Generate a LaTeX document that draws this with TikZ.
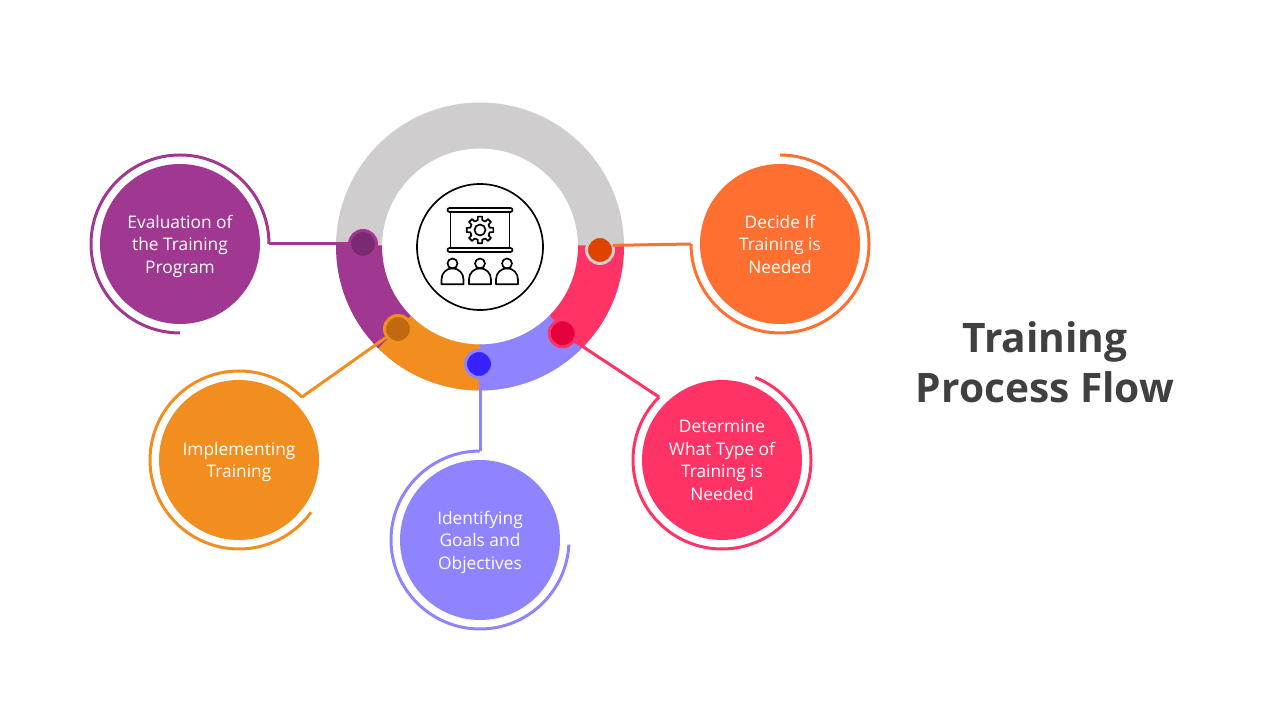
\documentclass[tikz,border=0pt]{standalone}
\usepackage{fontspec}
\setmainfont{Open Sans}
\usetikzlibrary{positioning}
\definecolor{cgray}{HTML}{CFCDCE}
\definecolor{cdecide}{HTML}{FF6F2F}
\definecolor{cdecidedark}{HTML}{E04300}
\definecolor{cdetermine}{HTML}{FF3366}
\definecolor{cdeterminedark}{HTML}{E4003A}
\definecolor{cgoals}{HTML}{8F84FF}
\definecolor{cgoalsdark}{HTML}{3722FF}
\definecolor{cimpl}{HTML}{F28E1F}
\definecolor{cimpldark}{HTML}{BF6A0E}
\definecolor{ceval}{HTML}{A03891}
\definecolor{cevaldark}{HTML}{7B2A72}
\definecolor{ctitle}{HTML}{404040}

\begin{document}
\begin{tikzpicture}[
    x=0.75pt, y=0.75pt,
    bubble/.style={circle, minimum size=120pt, inner sep=0pt, text=white, align=center, text depth=0pt, font=\fontsize{13}{16.9}\selectfont},
    hubdot/.style={circle, minimum size=20.25pt, inner sep=0pt, outer sep=0pt, line width=2.25pt},
    ringline/.style={line width=2.25pt},
    iconline/.style={line width=1.25pt, black, line join=round}
]
\useasboundingbox (0,0) rectangle (1280,720);

% Anello centrale
\fill[cgray, even odd rule] (480,473.5) circle[radius=144] (480,473.5) circle[radius=98];
\foreach \from/\to/\col in {0.6/-45/cdetermine, -45/-90/cgoals, -90/-135/cimpl, -135/-180.6/ceval} {
    \fill[\col] (480,473.5) ++(\from:144) arc[start angle=\from, end angle=\to, radius=144]
        -- ++(\to+180:46) arc[start angle=\to, end angle=\from, radius=98] -- cycle;
}

% Cerchi con testo
\node[bubble, fill=ceval] (evaluation) at (180,476) {Evaluation of\\the Training\\Program};
\node[bubble, fill=cdecide] (decide) at (780,476) {Decide If\\Training is\\Needed};
\node[bubble, fill=cdetermine] (determine) at (722,260) {Determine\\What Type of\\Training is\\Needed};
\node[bubble, fill=cgoals] (goals) at (480,180) {Identifying\\Goals and\\Objectives};
\node[bubble, fill=cimpl] (implementing) at (239,260) {Implementing\\Training};

% Archi esterni
\foreach \name/\col/\from/\to in {evaluation/ceval/0/270, decide/cdecide/-180/90, determine/cdetermine/135/428, goals/cgoals/90/357, implementing/cimpl/45/324} {
    \draw[ringline, \col] (\name.center) ++(\from:89) coordinate (tip\name) arc[start angle=\from, end angle=\to, radius=89];
}

% Punti sull'anello
\node[hubdot, draw=ceval, fill=cevaldark] (dotevaluation) at (363,476) {};
\node[hubdot, draw=cgray, fill=cdecidedark] (dotdecide) at (600,470) {};
\node[hubdot, draw=cdetermine, fill=cdeterminedark] (dotdetermine) at (562.7,386.7) {};
\node[hubdot, draw=cgoals, fill=cgoalsdark] (dotgoals) at (479,356) {};
\node[hubdot, draw=cimpl, fill=cimpldark] (dotimplementing) at (398,391) {};

% Collegamenti
\draw[ringline, ceval] (dotevaluation) -- (tipevaluation);
\draw[ringline, cdecide] (dotdecide.20) -- (tipdecide);
\draw[ringline, cdetermine] (dotdetermine) -- (tipdetermine);
\draw[ringline, cgoals] (dotgoals.south -| tipgoals) -- (tipgoals);
\draw[ringline, cimpl] (dotimplementing) -- (tipimplementing);

% Icona centrale
\node[circle, draw, fill=white, line width=1.25pt, minimum size=94.5pt, inner sep=0pt] (iconring) at (480,473) {};
\draw[iconline, rounded corners=1.5pt] (447.5,508) rectangle (512.5,512);
\draw[iconline, rounded corners=1.5pt] (447.5,468) rectangle (512.5,472);
\draw[iconline] (450.5,472) -- (450.5,508) (509.5,472) -- (509.5,508);
\draw[iconline] (480,490) circle[radius=5.5];
\begin{scope}[shift={(480,490)}]
    \draw[iconline] (-13:10) \foreach \a in {0,45,...,315} {
        -- (\a-13:10) -- (\a-9:13.5) -- (\a+9:13.5) -- (\a+13:10)
    } -- cycle;
\end{scope}
\foreach \x in {452.5,480,507} {
    \draw[iconline] (\x,456.5) circle[radius=5];
    \draw[iconline] (\x-11,435.7) -- ++(0,5) arc[start angle=180, end angle=0, radius=11] -- ++(0,-5) -- cycle;
}

% Titolo
\node[text=ctitle, align=center, font=\fontsize{30.5}{37.5}\selectfont\bfseries] (title) at (1045,358) {Training\\Process Flow};
\end{tikzpicture}
\end{document}
